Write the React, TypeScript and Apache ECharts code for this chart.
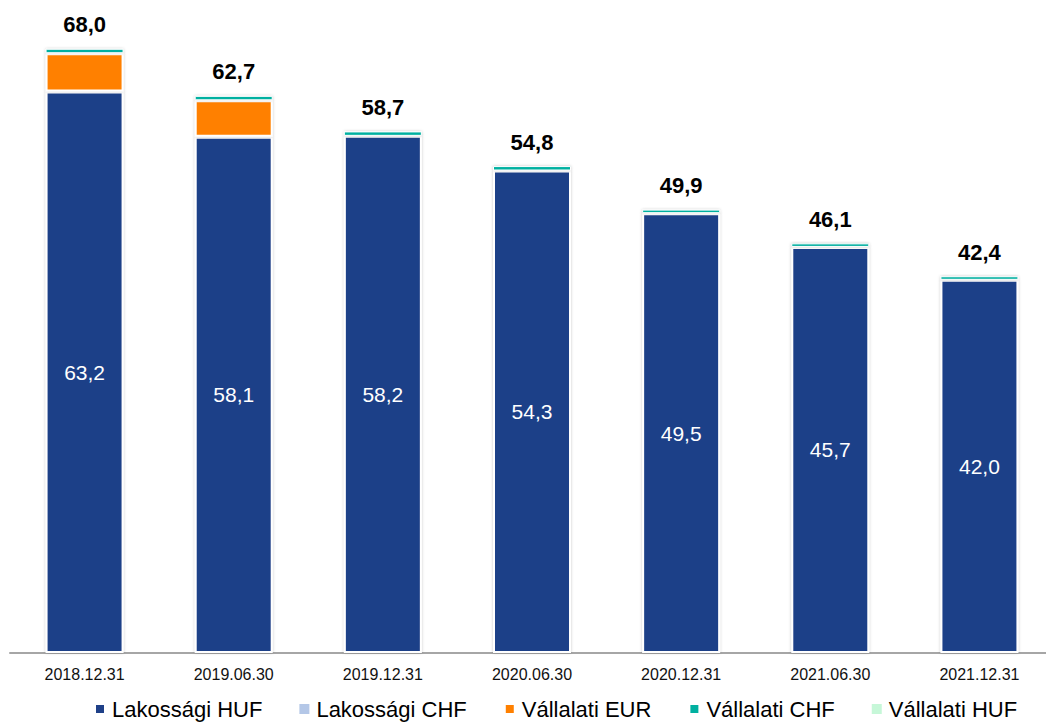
import React, { useEffect, useRef } from "react";
import * as echarts from "echarts";

const categories = ["2018.12.31", "2019.06.30", "2019.12.31", "2020.06.30", "2020.12.31", "2021.06.30", "2021.12.31"];
const lakossagiHUF = [63.2, 58.1, 58.2, 54.3, 49.5, 45.7, 42.0];
const lakossagiCHF = [0, 0, 0, 0, 0, 0, 0];
const vallalatiEUR = [4.3, 4.1, 0, 0, 0, 0, 0];
const vallalatiCHF = [0.5, 0.5, 0.5, 0.5, 0.4, 0.4, 0.4];
const vallalatiHUF = [0, 0, 0, 0, 0, 0, 0];
const totals = [68.0, 62.7, 58.7, 54.8, 49.9, 46.1, 42.4];

const FONT = "'Liberation Sans', Arial, sans-serif";
const fmt = (v: number) => v.toFixed(1).replace(".", ",");

export default function App() {
  const ref = useRef<HTMLDivElement>(null);
  useEffect(() => {
    if (!ref.current) return;
    const chart = echarts.init(ref.current, undefined, { renderer: "svg" });
    const baseStyle = {
      borderColor: "#ffffff",
      borderWidth: 2,
      shadowBlur: 3,
      shadowColor: "rgba(0,0,0,0.22)",
    };
    chart.setOption({
      animation: false,
      textStyle: { fontFamily: FONT },
      grid: { left: 10, right: 0, top: 31, bottom: 71, containLabel: false },
      legend: {
        left: 89,
        top: 693,
        itemWidth: 10,
        itemHeight: 10,
        itemGap: 37,
        icon: "rect",
        textStyle: { fontSize: 22, color: "#000", fontFamily: FONT, padding: [0, 0, 0, 2] },
        data: ["Lakossági HUF", "Lakossági CHF", "Vállalati EUR", "Vállalati CHF", "Vállalati HUF"],
      },
      xAxis: {
        type: "category",
        data: categories,
        axisLine: { show: true, lineStyle: { color: "#a6a6a6", width: 2 } },
        axisTick: { show: false },
        axisLabel: { color: "#111", fontSize: 16, margin: 13, fontFamily: FONT },
      },
      yAxis: {
        type: "value",
        min: 0,
        max: 70,
        show: false,
        splitLine: { show: false },
      },
      series: [
        {
          name: "Lakossági HUF",
          type: "bar",
          stack: "total",
          barWidth: 78,
          data: lakossagiHUF,
          itemStyle: { ...baseStyle, color: "#1f4088" },
          label: {
            show: true,
            position: "inside",
            color: "#ffffff",
            fontSize: 21,
            fontFamily: FONT,
            formatter: (p: any) => fmt(p.value),
          },
        },
        {
          name: "Lakossági CHF",
          type: "bar",
          stack: "total",
          data: lakossagiCHF,
          itemStyle: { color: "#b4c7e7", borderWidth: 0 },
        },
        {
          name: "Vállalati EUR",
          type: "bar",
          stack: "total",
          data: vallalatiEUR,
          itemStyle: { ...baseStyle, color: "#ff8000" },
        },
        {
          name: "Vállalati CHF",
          type: "bar",
          stack: "total",
          data: vallalatiCHF,
          itemStyle: { ...baseStyle, color: "#00b0a0", borderWidth: 1 },
          label: {
            show: true,
            position: "top",
            distance: 13,
            color: "#000",
            fontSize: 22,
            fontWeight: "bold",
            fontFamily: FONT,
            formatter: (p: any) => fmt(totals[p.dataIndex]),
          },
        },
        {
          name: "Vállalati HUF",
          type: "bar",
          stack: "total",
          data: vallalatiHUF,
          itemStyle: { color: "#c6f7d8", borderWidth: 0 },
        },
      ],
    });
    return () => chart.dispose();
  }, []);
  return (
    <div style={{ position: "absolute", left: 0, top: 0, width: 1046, height: 724, overflow: "hidden", background: "#fff" }}>
      <div ref={ref} style={{ width: 1054, height: 724 }} />
    </div>
  );
}
